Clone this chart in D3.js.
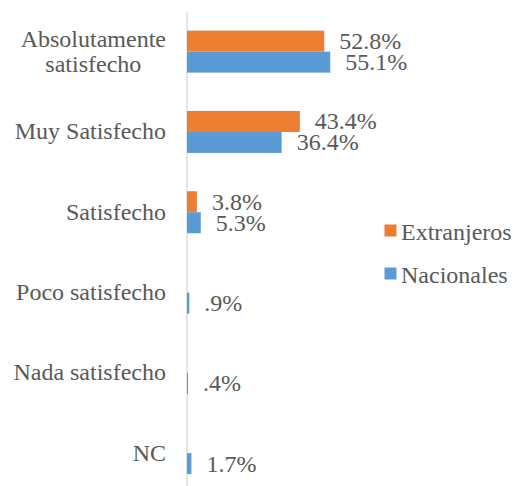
<!DOCTYPE html>
<html>
<head>
<meta charset="utf-8">
<script src="https://cdn.jsdelivr.net/npm/d3@7"></script>
<style>
  html, body { margin: 0; padding: 0; background: #fff; }
  svg { display: block; }
</style>
</head>
<body>
<svg id="chart" width="513" height="486"></svg>
<script>
const categories = [
  ["Absolutamente", "satisfecho"],
  ["Muy Satisfecho"],
  ["Satisfecho"],
  ["Poco satisfecho"],
  ["Nada satisfecho"],
  ["NC"]
];
const seriesNames = ["Extranjeros", "Nacionales"];
const extranjeros = [52.8, 43.4, 3.8, null, null, null];
const nacionales  = [55.1, 36.4, 5.3, 0.9, 0.4, 1.7];
const labelsExtranjeros = ["52.8%", "43.4%", "3.8%", "", "", ""];
const labelsNacionales  = ["55.1%", "36.4%", "5.3%", ".9%", ".4%", "1.7%"];
const colors = ["#ED7D31", "#5B9BD5"];

const FONT = "'Liberation Serif'";
const TEXT_COLOR = "#595959";
const svg = d3.select("#chart");
const fontSize = 24;

const catKeys = categories.map(c => c.join(" "));
const x = d3.scaleLinear().domain([0, 60]).range([187, 343]);
const y = d3.scaleBand().domain(catKeys).range([11.5, 493.3])
  .paddingInner(0.477).paddingOuter(0.2385);
const ySub = d3.scaleBand().domain(seriesNames).range([0, y.bandwidth()]);

const seriesValues = [extranjeros, nacionales];
const seriesLabels = [labelsExtranjeros, labelsNacionales];

function txt(sel) {
  return sel.attr("font-family", FONT).attr("font-size", fontSize).attr("fill", TEXT_COLOR);
}

// axis line
const axis = d3.axisLeft(y).tickSize(0).tickSizeOuter(0).tickFormat("");
const axG = svg.append("g").attr("transform", "translate(186.5,0)").call(axis);
axG.select(".domain").attr("stroke", "#D9D9D9").attr("stroke-width", 1.3);

// bars
seriesNames.forEach((s, si) => {
  const g = svg.append("g");
  const data = catKeys.map((k, i) => ({k, v: seriesValues[si][i], l: seriesLabels[si][i]}))
    .filter(d => d.v != null);
  g.selectAll("rect").data(data).enter().append("rect")
    .attr("x", x(0))
    .attr("y", d => y(d.k) + ySub(s))
    .attr("width", d => x(d.v) - x(0))
    .attr("height", ySub.bandwidth())
    .attr("fill", colors[si]);
  txt(g.selectAll("text").data(data).enter().append("text"))
    .attr("x", d => x(d.v) + 15)
    .attr("y", d => y(d.k) + ySub(s) + ySub.bandwidth() / 2 + 8)
    .text(d => d.l);
});

// category labels
const labRight = 166;
categories.forEach((lines, i) => {
  const cy = y(catKeys[i]) + y.bandwidth() / 2;
  const lh = 25;
  const g = svg.append("g");
  const texts = lines.map((ln, j) => txt(g.append("text"))
    .attr("y", cy + 7.5 + (j - (lines.length - 1) / 2) * lh)
    .text(ln));
  const maxW = d3.max(texts, t => t.node().getComputedTextLength());
  texts.forEach(t => t.attr("text-anchor", "middle").attr("x", labRight - maxW / 2));
});

// legend
const legY = [230.5, 273.5];
seriesNames.forEach((s, si) => {
  svg.append("rect").attr("x", 384.5).attr("y", legY[si] - 6).attr("width", 12).attr("height", 12)
    .attr("fill", colors[si]);
  txt(svg.append("text")).attr("x", 401).attr("y", legY[si] + 9).text(s);
});
</script>
</body>
</html>
